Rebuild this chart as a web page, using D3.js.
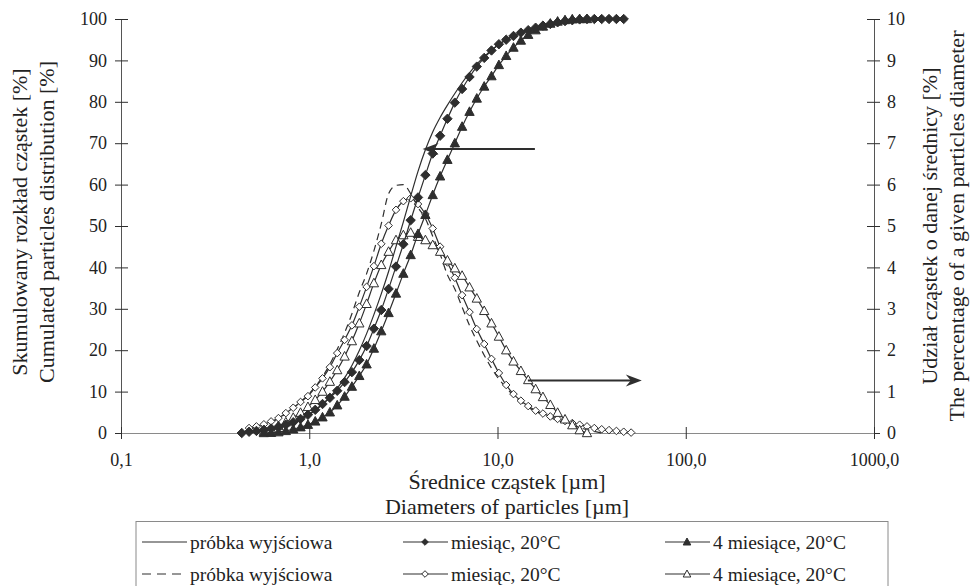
<!DOCTYPE html>
<html>
<head>
<meta charset="utf-8">
<script src="https://cdn.jsdelivr.net/npm/d3@7"></script>
<style>
body { margin: 0; background: #fff; }
svg text { font-family: "Liberation Serif", "DejaVu Serif", "Times New Roman", serif; fill: #222; }
</style>
</head>
<body>
<svg id="chart" width="972" height="586"></svg>
<script>
// particle diameters [um] (measurement classes)
var diameters = [0.438, 0.479, 0.524, 0.574, 0.627, 0.686, 0.751, 0.822, 0.899, 0.984,
    1.076, 1.176, 1.287, 1.408, 1.541, 1.685, 1.845, 2.017, 2.205, 2.413,
    2.639, 2.889, 3.162, 3.458, 3.782, 4.140, 4.527, 4.956, 5.420, 5.933,
    6.486, 7.101, 7.762, 8.499, 9.292, 10.17, 11.12, 12.16, 13.31, 14.56,
    15.94, 17.43, 19.08, 20.86, 22.84, 24.96, 27.31, 29.88, 32.68, 35.77,
    39.11, 42.81, 46.81, 51.26];

// cumulated distribution [%] (left axis)
var cumBase = [null, 0.1, 0.3, 0.5, 0.8, 1.2, 1.7, 2.4, 3.2, 4.2,
    5.4, 6.9, 8.7, 10.8, 13.3, 16.3, 19.9, 24.0, 28.6, 33.6,
    39.0, 45.0, 51.0, 57.2, 63.2, 68.4, 72.7, 76.2, 79.2, 82.0,
    84.6, 87.0, 89.1, 90.9, 92.5, 93.8, 95.0, 95.9, 96.8, 97.5,
    98.1, 98.6, 99.0, 99.3, 99.6, 99.8, 99.9, 100, null, null,
    null, null, null, null];
var cumMonth = [0.0, 0.3, 0.5, 0.8, 1.1, 1.5, 2.0, 2.6, 3.4, 4.4,
    5.6, 7.0, 8.5, 10.2, 12.3, 14.7, 17.6, 21.0, 25.2, 29.7,
    34.8, 40.2, 45.6, 51.4, 56.9, 62.3, 67.5, 71.8, 75.9, 79.8,
    83.1, 86.0, 88.5, 90.6, 92.4, 93.9, 95.0, 95.9, 96.7, 97.3,
    97.9, 98.4, 98.8, 99.2, 99.5, 99.7, 99.9, 100, 100, 100,
    100, 100, 100, null];
var cum4Months = [null, null, null, 0.0, 0.05, 0.2, 0.5, 0.9, 1.4, 2.0,
    2.8, 3.8, 5.0, 6.7, 8.8, 11.2, 13.8, 16.6, 20.4, 24.6,
    29.0, 33.7, 38.5, 43.0, 48.1, 52.7, 57.5, 62.0, 66.0, 70.0,
    74.0, 77.6, 80.8, 83.7, 86.2, 88.9, 91.1, 93.1, 94.8, 96.2,
    97.3, 98.2, 98.9, 99.4, 99.75, 99.95, 100, 100, null, null,
    null, null, null, null];

// share of a given diameter [%] (right axis)
var freqBase = [null, 0.10, 0.14, 0.19, 0.26, 0.35, 0.47, 0.60, 0.75, 0.92,
    1.12, 1.36, 1.66, 2.02, 2.42, 2.88, 3.40, 3.85, 4.40, 5.05,
    5.78, 5.98, 6.00, 5.78, 5.45, 5.18, 4.75, 4.32, 3.82, 3.48,
    3.04, 2.60, 2.23, 1.88, 1.57, 1.30, 1.10, 0.90, 0.75, 0.62,
    0.52, 0.44, 0.37, 0.30, 0.24, 0.18, 0.13, 0.08, 0.04, 0.0,
    null, null, null, null];
var freqMonth = [null, 0.12, 0.16, 0.21, 0.28, 0.36, 0.48, 0.61, 0.75, 0.89,
    1.10, 1.32, 1.59, 1.93, 2.25, 2.60, 3.05, 3.53, 4.03, 4.57,
    5.01, 5.39, 5.60, 5.67, 5.53, 5.29, 4.94, 4.50, 4.12, 3.75,
    3.33, 2.92, 2.51, 2.15, 1.79, 1.45, 1.16, 0.94, 0.78, 0.65,
    0.54, 0.47, 0.40, 0.34, 0.29, 0.24, 0.20, 0.16, 0.12, 0.09,
    0.07, 0.05, 0.03, 0.01];
var freq4Months = [null, null, null, 0.03, 0.09, 0.17, 0.26, 0.37, 0.49, 0.63,
    0.80, 1.00, 1.24, 1.52, 1.85, 2.22, 2.65, 3.12, 3.62, 4.06,
    4.38, 4.66, 4.78, 4.84, 4.74, 4.66, 4.54, 4.38, 4.17, 3.98,
    3.80, 3.52, 3.25, 2.95, 2.65, 2.33, 2.00, 1.73, 1.50, 1.28,
    1.06, 0.87, 0.68, 0.49, 0.33, 0.19, 0.07, 0.00, null, null,
    null, null, null, null];

var xTicks = [0.1, 1, 10, 100, 1000];
var xTickLabels = ['0,1', '1,0', '10,0', '100,0', '1000,0'];
var leftTicks = [0, 10, 20, 30, 40, 50, 60, 70, 80, 90, 100];
var rightTicks = [0, 1, 2, 3, 4, 5, 6, 7, 8, 9, 10];

// arrows: [from diameter, to diameter, value]
var arrowLeft = [15.8, 4.0, 68.6];
var arrowRight = [14.5, 58.4, 1.27];

var svg = d3.select('#chart');
var plotLeft = 121, plotRight = 874, plotTop = 19, plotBottom = 433;
var ink = '#2e2e2e';
var serif = '"Liberation Serif", "DejaVu Serif", "Times New Roman", serif';

var x = d3.scaleLog().domain([0.1, 1000]).range([plotLeft, plotRight]);
var yLeft = d3.scaleLinear().domain([0, 100]).range([plotBottom, plotTop]);
var yRight = d3.scaleLinear().domain([0, 10]).range([plotBottom, plotTop]);

// marker shapes
function diamondPath(r) {
    return 'M0,' + (-r) + 'L' + r + ',0L0,' + r + 'L' + (-r) + ',0Z';
}
function trianglePath(r) {
    return 'M0,' + (-r) + 'L' + (r * 0.95) + ',' + (r * 0.75) + 'L' + (-r * 0.95) + ',' + (r * 0.75) + 'Z';
}

var series = [
    { label: 'próbka wyjściowa', values: freqBase, y: yRight, dash: '7,5', legendDash: '9,6', shape: null },
    { label: 'miesiąc, 20°C', values: freqMonth, y: yRight, dash: null, shape: 'diamond', fill: '#fff' },
    { label: '4 miesiące, 20°C', values: freq4Months, y: yRight, dash: null, shape: 'triangle', fill: '#fff' },
    { label: 'próbka wyjściowa', values: cumBase, y: yLeft, dash: null, shape: null },
    { label: 'miesiąc, 20°C', values: cumMonth, y: yLeft, dash: null, shape: 'diamond', fill: ink },
    { label: '4 miesiące, 20°C', values: cum4Months, y: yLeft, dash: null, shape: 'triangle', fill: ink }
];

// axes
var axisL = svg.append('g')
    .attr('transform', 'translate(' + plotLeft + ',0)')
    .call(d3.axisLeft(yLeft).tickValues(leftTicks).tickSizeInner(6).tickSizeOuter(0).tickPadding(8));
var axisR = svg.append('g')
    .attr('transform', 'translate(' + plotRight + ',0)')
    .call(d3.axisRight(yRight).tickValues(rightTicks).tickSizeInner(6).tickSizeOuter(0).tickPadding(7));
var axisB = svg.append('g')
    .attr('transform', 'translate(0,' + plotBottom + ')')
    .call(d3.axisBottom(x).tickValues(xTicks).tickSizeInner(6).tickSizeOuter(0).tickPadding(14)
        .tickFormat(function(d, i) { return xTickLabels[i]; }));

// ticks cross the axis line
axisL.selectAll('.tick line').attr('x1', 7).attr('stroke', ink);
axisR.selectAll('.tick line').attr('x1', -7).attr('stroke', ink);
axisB.selectAll('.tick line').attr('y1', -6).attr('stroke', ink);
axisL.select('.domain').attr('stroke', '#555');
axisR.select('.domain').attr('stroke', '#555');
axisB.select('.domain').attr('stroke', '#8a8a8a');
svg.selectAll('g').attr('font-family', serif);
svg.selectAll('.tick text')
    .attr('font-family', serif)
    .attr('font-size', 18)
    .attr('fill', '#222');

// series
var plot = svg.append('g');
series.forEach(function(s) {
    var pts = [];
    s.values.forEach(function(v, i) { if (v !== null) pts.push([diameters[i], v]); });

    var line = d3.line()
        .x(function(d) { return x(d[0]); })
        .y(function(d) { return s.y(d[1]); })
        .curve(d3.curveMonotoneX);

    plot.append('path')
        .datum(pts)
        .attr('d', line)
        .attr('fill', 'none')
        .attr('stroke', ink)
        .attr('stroke-width', 1.2)
        .attr('stroke-dasharray', s.dash);

    if (s.shape) {
        var r = s.shape == 'diamond' ? (s.fill == ink ? 4.7 : 3.8) : 4.9;
        plot.selectAll(null)
            .data(pts)
            .enter().append('path')
            .attr('transform', function(d) { return 'translate(' + x(d[0]) + ',' + s.y(d[1]) + ')'; })
            .attr('d', s.shape == 'diamond' ? diamondPath(r) : trianglePath(r))
            .attr('fill', s.fill)
            .attr('stroke', ink)
            .attr('stroke-width', 1);
    }
});

// arrows pointing at the matching axis
function drawArrow(a, yScale) {
    var x1 = x(a[0]), x2 = x(a[1]), yy = yScale(a[2]);
    var dir = x2 > x1 ? 1 : -1;
    svg.append('line')
        .attr('x1', x1).attr('x2', x2 - dir * 10)
        .attr('y1', yy).attr('y2', yy)
        .attr('stroke', ink).attr('stroke-width', 2);
    svg.append('path')
        .attr('d', 'M' + x2 + ',' + yy + 'L' + (x2 - dir * 16) + ',' + (yy - 6) +
            'L' + (x2 - dir * 11) + ',' + yy + 'L' + (x2 - dir * 16) + ',' + (yy + 6) + 'Z')
        .attr('fill', ink);
}
drawArrow(arrowLeft, yLeft);
drawArrow(arrowRight, yRight);

// axis titles
function addTitle(tx, ty, rotate, txt) {
    svg.append('text')
        .attr('transform', 'translate(' + tx + ',' + ty + ')' + (rotate ? ' rotate(-90)' : ''))
        .attr('text-anchor', 'middle')
        .attr('font-family', serif)
        .attr('font-size', 22)
        .text(txt);
}
var midY = (plotTop + plotBottom) / 2;
addTitle(27, midY - 4, true, 'Skumulowany rozkład cząstek [%]');
addTitle(54, midY - 4, true, 'Cumulated particles distribution [%]');
addTitle(937, midY, true, 'Udział cząstek o danej średnicy [%]');
addTitle(964, midY, true, 'The percentage of a given particles diameter');
addTitle(507, 489, false, 'Średnice cząstek [µm]');
addTitle(507, 514, false, 'Diameters of particles [µm]');

// legend
var legend = svg.append('g');
legend.append('rect')
    .attr('x', 136).attr('y', 521.5)
    .attr('width', 752).attr('height', 90)
    .attr('fill', 'none')
    .attr('stroke', '#8a8a8a');

var colX = [142, 403, 665];
var rowY = [542, 574];
var legendOrder = [3, 4, 5, 0, 1, 2];
legendOrder.forEach(function(si, j) {
    var s = series[si];
    var cx = colX[j % 3], cy = rowY[Math.floor(j / 3)];
    var g = legend.append('g').attr('transform', 'translate(' + cx + ',' + cy + ')');
    g.append('line')
        .attr('x1', 0).attr('x2', 45)
        .attr('stroke', ink).attr('stroke-width', 1.2)
        .attr('stroke-dasharray', s.legendDash || s.dash);
    if (s.shape) {
        g.append('path')
            .attr('transform', 'translate(22,0)')
            .attr('d', s.shape == 'diamond' ? diamondPath(3.3) : trianglePath(4))
            .attr('fill', s.fill)
            .attr('stroke', ink);
    }
    g.append('text')
        .attr('x', 48).attr('y', 6.5)
        .attr('font-family', serif)
        .attr('font-size', 19.5)
        .text(s.label);
});
</script>
</body>
</html>
